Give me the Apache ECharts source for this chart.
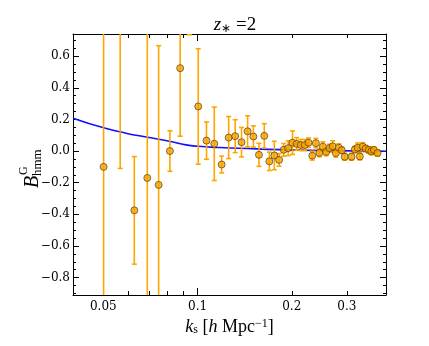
<!DOCTYPE html>
<html>
<head>
<meta charset="utf-8">
<script src="https://cdn.jsdelivr.net/npm/echarts@6/dist/echarts.min.js"></script>
<style>
  html, body { margin: 0; padding: 0; background: #fff; }
  #chart { width: 429px; height: 346px; }
</style>
</head>
<body>
<div id="chart"></div>
<script>
var kPts = [0.0501, 0.0566, 0.0628, 0.0691, 0.0751, 0.0816, 0.0880, 0.0942, 0.1005, 0.1068,
            0.1131, 0.1194, 0.1257, 0.1319, 0.1382, 0.1445, 0.1508, 0.1571, 0.1634, 0.1696,
            0.1759, 0.1822, 0.1885, 0.1948, 0.2011, 0.2073, 0.2136, 0.2199, 0.2262, 0.2325,
            0.2388, 0.2450, 0.2513, 0.2576, 0.2639, 0.2702, 0.2765, 0.2827, 0.2890, 0.2953,
            0.3105, 0.3180, 0.3245, 0.3300, 0.3370, 0.3445, 0.3525, 0.3590, 0.3660, 0.3759]
var bPts = [-0.10, 0.92, -0.375, -0.17, -0.214, 0.0, 0.524, 0.98, 0.282, 0.066,
            0.046, -0.085, 0.085, 0.094, 0.056, 0.125, 0.092, -0.024, 0.096, -0.065,
            -0.028, -0.056, 0.008, 0.018, 0.053, 0.045, 0.038, 0.038, 0.053, -0.029,
            0.050, -0.011, 0.028, -0.005, 0.018, 0.030, -0.013, 0.021, 0.005, -0.036,
            -0.036, 0.010, 0.021, -0.034, 0.028, 0.016, 0.007, -0.003, 0.007, -0.012]
var errPts = [1.0, 1.03, 0.34, 1.0, 0.88, 0.128, 0.43, 0.245, 0.365, 0.118,
              0.232, 0.053, 0.133, 0.104, 0.093, 0.098, 0.067, 0.073, 0.077, 0.058,
              0.090, 0.040, 0.040, 0.047, 0.074, 0.040, 0.035, 0.035, 0.030, 0.028,
              0.030, 0.025, 0.030, 0.025, 0.025, 0.035, 0.025, 0.025, 0.020, 0.022,
              0.022, 0.020, 0.030, 0.022, 0.025, 0.020, 0.020, 0.020, 0.020, 0.020]

// model curve
var kLine = [0.040, 0.0501, 0.059, 0.0692, 0.0812, 0.0918, 0.100, 0.1173, 0.1359, 0.1824, 0.2636, 0.3806, 0.400]
var bLine = [0.208, 0.147, 0.113, 0.087, 0.062, 0.039, 0.030, 0.022, 0.018, 0.009, 0.003, 0.0, -0.001]

// ticks
var yTicks = [-0.8, -0.6, -0.4, -0.2, 0, 0.2, 0.4, 0.6]
var yMinor = [-0.9, -0.85, -0.75, -0.7, -0.65, -0.55, -0.5, -0.45, -0.35, -0.3, -0.25, -0.15, -0.1, -0.05,
              0.05, 0.1, 0.15, 0.25, 0.3, 0.35, 0.45, 0.5, 0.55, 0.65, 0.7]
var xLabels = [0.05, 0.1, 0.2, 0.3]
var xMajor = [0.1]
var xMinor = [0.05, 0.06, 0.07, 0.08, 0.09, 0.2, 0.3]

var serif = 'DejaVu Serif'
var mathFont = 'Liberation Serif'
var errColor = '#ffa500'

function xAxisDef(pos, ticks, len, labels) {
  return {
    type: 'log',
    logBase: 10,
    min: 0.04,
    max: 0.4,
    position: pos,
    axisLine: { show: len > 5, onZero: false, lineStyle: { color: '#000', width: 1 } },
    axisTick: { show: true, inside: true, length: len, customValues: ticks, lineStyle: { color: '#000', width: 1 } },
    axisLabel: labels ? {
      show: true,
      customValues: labels,
      margin: 6,
      color: '#000',
      fontFamily: serif,
      fontSize: 12,
      formatter: function (v) { return String(v) }
    } : { show: false },
    splitLine: { show: false },
    minorTick: { show: false }
  }
}

function yAxisDef(pos, ticks, len, labels) {
  return {
    type: 'value',
    min: -0.91,
    max: 0.74,
    position: pos,
    axisLine: { show: len > 5, onZero: false, lineStyle: { color: '#000', width: 1 } },
    axisTick: { show: true, inside: true, length: len, customValues: ticks, lineStyle: { color: '#000', width: 1 } },
    axisLabel: labels ? {
      show: true,
      customValues: labels,
      margin: 3,
      color: '#000',
      fontFamily: serif,
      fontSize: 12,
      formatter: function (v) { return (v < 0 ? '\u2212' : '') + Math.abs(v).toFixed(1) }
    } : { show: false },
    splitLine: { show: false }
  }
}

var xBottom = xAxisDef('bottom', xMajor, 7, xLabels)
xBottom.name = '{i|k}{sub|s}{r| [}{i|h}{r| Mpc}{sup|\u22121}{r|]}'
xBottom.nameLocation = 'middle'
xBottom.nameGap = 22
xBottom.nameTextStyle = {
  color: '#000',
  rich: {
    i: { fontFamily: mathFont, fontStyle: 'italic', fontSize: 18, color: '#000' },
    r: { fontFamily: mathFont, fontSize: 18, color: '#000' },
    sub: { fontFamily: mathFont, fontSize: 12, color: '#000', verticalAlign: 'bottom', padding: [6, 0, 0, 0] },
    sup: { fontFamily: mathFont, fontSize: 12, color: '#000', verticalAlign: 'top', padding: [0, 0, 6, 0] }
  }
}

var errData = kPts.map(function (k, i) {
  return [k, bPts[i] - errPts[i], bPts[i] + errPts[i]]
})
var ptData = kPts.map(function (k, i) { return [k, bPts[i]] })
var lineData = kLine.map(function (k, i) { return [k, bLine[i]] })

function renderErr(params, api) {
  var x = api.value(0)
  var lo = api.coord([x, api.value(1)])
  var hi = api.coord([x, api.value(2)])
  var w = 2.5
  var st = { stroke: errColor, lineWidth: 1.6 }
  return {
    type: 'group',
    children: [
      { type: 'line', shape: { x1: lo[0], y1: lo[1], x2: hi[0], y2: hi[1] }, style: st },
      { type: 'line', shape: { x1: lo[0] - w, y1: lo[1], x2: lo[0] + w, y2: lo[1] }, style: st },
      { type: 'line', shape: { x1: hi[0] - w, y1: hi[1], x2: hi[0] + w, y2: hi[1] }, style: st }
    ]
  }
}

var chart = echarts.init(document.getElementById('chart'))
chart.setOption({
  backgroundColor: '#fff',
  animation: false,
  title: {
    text: '{i|z}{s|\u2217}{r| =2}',
    left: 230,
    top: 10,
    textAlign: 'center',
    textStyle: {
      fontWeight: 'normal',
      rich: {
        i: { fontFamily: mathFont, fontStyle: 'italic', fontWeight: 'normal', fontSize: 19, color: '#000' },
        s: { fontFamily: mathFont, fontWeight: 'normal', fontSize: 12, color: '#000', verticalAlign: 'bottom', padding: [8, 0, 0, 0] },
        r: { fontFamily: mathFont, fontWeight: 'normal', fontSize: 19, color: '#000' }
      }
    }
  },
  grid: { left: 73, right: 43, top: 34, bottom: 51, containLabel: false },
  xAxis: [
    xBottom,
    xAxisDef('top', xMajor, 7, null),
    xAxisDef('bottom', xMinor, 4, null),
    xAxisDef('top', xMinor, 4, null)
  ],
  yAxis: [
    yAxisDef('left', yTicks, 6, yTicks),
    yAxisDef('right', yTicks, 6, null),
    yAxisDef('left', yMinor, 3, null),
    yAxisDef('right', yMinor, 3, null)
  ],
  graphic: [{
    type: 'group',
    x: 33,
    y: 188,
    rotation: Math.PI / 2,
    children: [
      { type: 'text', x: 0, y: 0, style: { text: 'B', font: 'italic 20px "Liberation Serif"', fill: '#000', verticalAlign: 'middle' } },
      { type: 'text', x: 13, y: -9, style: { text: 'G', font: '12px "Liberation Serif"', fill: '#000', verticalAlign: 'middle' } },
      { type: 'text', x: 12, y: 5, style: { text: 'hmm', font: '13px "Liberation Serif"', fill: '#000', verticalAlign: 'middle' } }
    ]
  }],
  series: [{
    type: 'line',
    data: lineData,
    smooth: true,
    showSymbol: false,
    lineStyle: { color: '#1010ff', width: 1.6 },
    z: 1
  }, {
    type: 'custom',
    data: errData,
    renderItem: renderErr,
    clip: true,
    z: 2
  }, {
    type: 'scatter',
    data: ptData,
    symbol: 'circle',
    symbolSize: 7,
    clip: true,
    itemStyle: { color: '#f5a300', borderColor: '#4a3000', borderWidth: 0.8 },
    z: 3
  }]
})
</script>
</body>
</html>
